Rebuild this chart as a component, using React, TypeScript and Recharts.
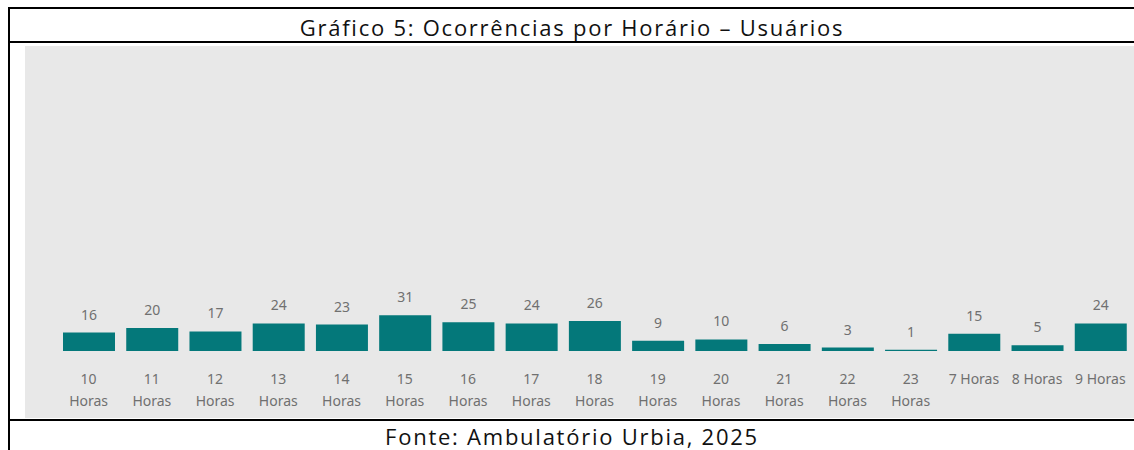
import React from "react";
import { BarChart, Bar, XAxis, YAxis, LabelList } from "recharts";

const hours = [
  "10 Horas", "11 Horas", "12 Horas", "13 Horas", "14 Horas", "15 Horas",
  "16 Horas", "17 Horas", "18 Horas", "19 Horas", "20 Horas", "21 Horas",
  "22 Horas", "23 Horas", "7 Horas", "8 Horas", "9 Horas",
];
const counts = [16, 20, 17, 24, 23, 31, 25, 24, 26, 9, 10, 6, 3, 1, 15, 5, 24];

const data = hours.map((h, i) => ({ hour: h, value: counts[i] }));

const TEAL = "#04787a";
const LABEL = "#707070";
const FONT = "'Noto Sans', sans-serif";

// Power BI style: wrap long labels onto two lines
const HourTick = (props: any) => {
  const { x, y, payload } = props;
  const text: string = payload.value;
  const lines = text.length > 7 ? text.split(" ") : [text];
  return (
    <text
      x={x}
      y={y}
      textAnchor="middle"
      fill={LABEL}
      fontSize={14}
      fontFamily={FONT}
    >
      {lines.map((l, i) => (
        <tspan key={i} x={x} dy={i === 0 ? 25 : 22}>
          {l}
        </tspan>
      ))}
    </text>
  );
};

const line = (s: React.CSSProperties): React.CSSProperties => ({
  position: "absolute",
  background: "#000",
  ...s,
});

const caption: React.CSSProperties = {
  position: "absolute",
  left: 10,
  width: 1124,
  textAlign: "center",
  fontSize: 22,
  letterSpacing: 1.75,
  color: "#111",
  whiteSpace: "nowrap",
};

export default function App() {
  return (
    <div
      style={{
        position: "absolute",
        left: 0,
        top: 0,
        width: 1134,
        height: 450,
        background: "#fff",
        overflow: "hidden",
        fontFamily: "'Open Sans', sans-serif",
      }}
    >
      {/* frame */}
      <div style={line({ left: 8, top: 7, width: 1126, height: 2 })} />
      <div style={line({ left: 8, top: 7, width: 2, height: 443 })} />
      <div style={line({ left: 8, top: 41, width: 1126, height: 2 })} />
      <div style={line({ left: 8, top: 419, width: 1126, height: 2 })} />

      <div style={{ ...caption, top: 11, height: 32, lineHeight: "32px" }}>
        Gráfico 5: Ocorrências por Horário – Usuários
      </div>

      <div
        style={{
          position: "absolute",
          left: 25,
          top: 46,
          width: 1109,
          height: 372,
          background: "#e8e8e8",
        }}
      >
        <BarChart
          width={1109}
          height={372}
          data={data}
          margin={{ top: 0, right: 2, bottom: 0, left: 32 }}
          barSize={52}
        >
          <XAxis
            dataKey="hour"
            axisLine={false}
            tickLine={false}
            interval={0}
            height={67}
            tick={<HourTick />}
          />
          <YAxis hide domain={[0, 265]} />
          <Bar dataKey="value" fill={TEAL} isAnimationActive={false}>
            <LabelList
              dataKey="value"
              position="top"
              offset={13}
              fill={LABEL}
              fontSize={14}
              fontFamily={FONT}
            />
          </Bar>
        </BarChart>
      </div>

      <div style={{ ...caption, top: 422, height: 28, lineHeight: "28px" }}>
        Fonte: Ambulatório Urbia, 2025
      </div>
    </div>
  );
}
